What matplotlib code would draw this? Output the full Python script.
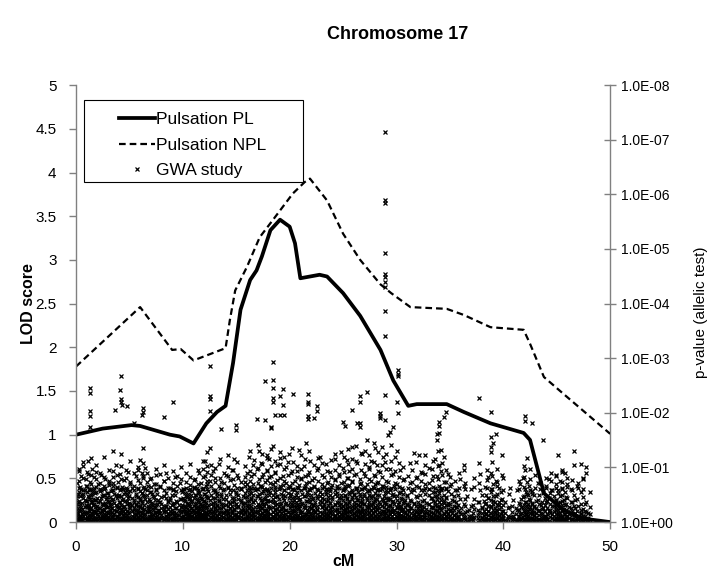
import matplotlib
matplotlib.use("Agg")
import matplotlib.pyplot as plt
from matplotlib.patches import Rectangle
from matplotlib.ticker import FixedLocator, FuncFormatter, NullLocator
import numpy as np

plt.rcParams['font.family'] = ['Liberation Sans', 'DejaVu Sans']

# linkage curves (cM, LOD)
pl_cm = [0, 2.5, 5.2, 6.0, 8.8, 9.7, 11.0, 12.2, 13.2, 14.0, 14.7, 15.4, 16.3,
         16.9, 17.4, 18.2, 19.1, 20.0, 20.5, 21.0, 22.8, 23.5, 25.0, 26.6,
         28.5, 29.7, 31.1, 31.9, 34.7, 36.3, 38.8, 41.9, 42.5, 43.8, 45.6,
         47.5, 50]
pl_lod = [1.0, 1.07, 1.11, 1.10, 1.0, 0.98, 0.90, 1.13, 1.26, 1.33, 1.82,
          2.43, 2.77, 2.88, 3.04, 3.34, 3.46, 3.38, 3.19, 2.79, 2.83, 2.81,
          2.62, 2.36, 1.97, 1.62, 1.33, 1.35, 1.35, 1.26, 1.13, 1.02, 0.94,
          0.33, 0.14, 0.04, 0.0]

npl_cm = [0, 6.0, 9.0, 9.8, 11.0, 14.0, 14.4, 14.9, 16.0, 17.2, 18.2, 20.3,
          21.4, 21.9, 23.5, 25.0, 26.6, 28.5, 29.5, 31.3, 34.7, 36.3, 38.8,
          41.9, 42.5, 43.8, 45.6, 50]
npl_lod = [1.78, 2.46, 1.97, 1.98, 1.85, 1.99, 2.31, 2.65, 2.92, 3.26, 3.42,
           3.76, 3.89, 3.93, 3.68, 3.30, 3.0, 2.72, 2.62, 2.46, 2.44, 2.37,
           2.23, 2.20, 2.04, 1.66, 1.47, 1.01]

# GWA study: SNP position (cM) with the -log10(p) values seen there
gwa_rows = [
    (0.1, [0.02, 0.15, 0.33, 0.48, 0.71]),
    (0.3, [0.08, 0.22, 0.39, 0.56, 0.93]),
    (0.5, [0.04, 0.12, 0.27, 0.61, 0.84]),
    (0.7, [0.11, 0.19, 0.45, 0.52, 1.02]),
    (0.9, [0.03, 0.31, 0.38, 0.66, 0.79]),
    (1.1, [0.06, 0.17, 0.29, 0.47, 0.88, 1.12]),
    (1.3, [0.09, 0.24, 0.42, 0.58, 0.74, 1.75, 1.94, 2.04, 2.36, 2.45]),
    (1.5, [0.02, 0.14, 0.36, 0.51, 0.97]),
    (1.7, [0.07, 0.21, 0.33, 0.63, 0.82]),
    (1.9, [0.05, 0.18, 0.41, 0.55, 0.91]),
    (2.1, [0.12, 0.26, 0.37, 0.69]),
    (2.3, [0.03, 0.16, 0.44, 0.58, 0.86]),
    (2.5, [0.08, 0.23, 0.31, 0.49]),
    (2.7, [0.04, 0.13, 0.35, 0.62, 0.78]),
    (2.9, [0.1, 0.28, 0.46, 0.53]),
    (3.1, [0.06, 0.19, 0.39, 0.71, 0.95]),
    (3.3, [0.02, 0.25, 0.34, 0.57]),
    (3.5, [0.09, 0.15, 0.43, 0.66, 0.83]),
    (3.65, [2.06]),
    (3.7, [0.05, 0.21, 0.32, 0.5, 1.05]),
    (3.9, [0.11, 0.27, 0.47, 0.74]),
    (4.1, [0.03, 0.18, 0.36, 0.59, 0.88, 2.42]),
    (4.25, [2.2, 2.25, 2.67]),
    (4.3, [0.07, 0.24, 0.41, 0.64, 2.14]),
    (4.5, [0.04, 0.13, 0.29, 0.52, 0.77]),
    (4.75, [0.09, 0.2, 0.38, 0.61, 2.12]),
    (4.9, [0.02, 0.16, 0.45, 0.55, 0.92]),
    (5.1, [0.06, 0.26, 0.33, 0.69]),
    (5.4, [0.1, 0.22, 0.4, 0.58, 1.81]),
    (5.6, [0.03, 0.14, 0.31, 0.48, 0.85]),
    (5.8, [0.08, 0.19, 0.37, 0.63, 0.96]),
    (6.0, [0.05, 0.28, 0.44, 0.72, 1.13]),
    (6.2, [0.11, 0.17, 0.35, 0.54, 0.9, 1.96]),
    (6.3, [0.02, 0.23, 0.49, 0.81, 2.02, 2.08]),
    (6.5, [0.07, 0.15, 0.42, 0.6, 0.99]),
    (6.7, [0.04, 0.25, 0.3, 0.67]),
    (6.9, [0.09, 0.2, 0.38, 0.56, 0.78]),
    (7.1, [0.03, 0.12, 0.34, 0.51]),
    (7.3, [0.06, 0.27, 0.46, 0.7]),
    (7.5, [0.1, 0.18, 0.32, 0.59, 0.87]),
    (7.7, [0.02, 0.22, 0.41]),
    (7.9, [0.08, 0.16, 0.36, 0.65]),
    (8.2, [0.05, 0.24, 0.47, 0.76, 1.92]),
    (8.4, [0.11, 0.29, 0.53, 0.89]),
    (8.6, [0.03, 0.14, 0.39]),
    (8.8, [0.07, 0.21, 0.44, 0.62]),
    (9.1, [0.04, 0.17, 0.33, 0.58, 2.2]),
    (9.3, [0.09, 0.26, 0.5, 0.82]),
    (9.5, [0.02, 0.13, 0.37]),
    (9.7, [0.06, 0.2, 0.43, 0.71]),
    (9.9, [0.1, 0.31, 0.55]),
    (10.1, [0.03, 0.12, 0.24, 0.4, 0.61]),
    (10.3, [0.05, 0.16, 0.28, 0.47]),
    (10.5, [0.02, 0.09, 0.19, 0.35, 0.52]),
    (10.7, [0.07, 0.14, 0.3, 0.44, 0.68]),
    (10.9, [0.04, 0.11, 0.22, 0.38, 0.57]),
    (11.1, [0.01, 0.08, 0.18, 0.33, 0.49, 0.79]),
    (11.3, [0.06, 0.15, 0.26, 0.42, 0.63]),
    (11.5, [0.03, 0.1, 0.21, 0.36, 0.54, 0.9]),
    (11.7, [0.05, 0.13, 0.29, 0.45, 0.72]),
    (11.9, [0.02, 0.12, 0.24, 0.39, 0.6, 0.97]),
    (12.1, [0.07, 0.17, 0.32, 0.51, 0.84, 1.12]),
    (12.3, [0.04, 0.14, 0.27, 0.46, 0.69, 1.02]),
    (12.55, [0.09, 0.2, 0.41, 0.76, 1.35, 2.04, 2.25, 2.31, 2.86]),
    (12.8, [0.03, 0.16, 0.35, 0.58, 0.93]),
    (13.0, [0.06, 0.23, 0.44, 0.81]),
    (13.2, [0.02, 0.12, 0.3, 0.53]),
    (13.4, [0.08, 0.19, 0.38, 0.67, 1.07]),
    (13.6, [0.05, 0.25, 0.48, 0.74, 1.7]),
    (13.8, [0.1, 0.17, 0.34, 0.59]),
    (14.0, [0.03, 0.21, 0.42, 0.86]),
    (14.2, [0.07, 0.14, 0.29, 0.63, 1.01]),
    (14.4, [0.04, 0.26, 0.52, 0.77]),
    (14.6, [0.09, 0.18, 0.37, 0.95]),
    (14.8, [0.02, 0.23, 0.45, 0.68, 1.15]),
    (15.0, [0.06, 0.13, 0.33, 0.56, 1.68, 1.78]),
    (15.2, [0.1, 0.28, 0.49, 0.8]),
    (15.4, [0.03, 0.16, 0.4, 0.62]),
    (15.6, [0.07, 0.22, 0.35]),
    (15.8, [0.04, 0.19, 0.46, 0.73]),
    (16.0, [0.09, 0.27, 0.39, 0.58, 0.9]),
    (16.2, [0.02, 0.15, 0.31, 0.65, 1.2]),
    (16.4, [0.06, 0.24, 0.43, 0.54, 0.85]),
    (16.6, [0.11, 0.18, 0.36, 0.7, 1.04]),
    (16.9, [0.03, 0.2, 0.47, 0.61, 0.97, 1.88]),
    (17.1, [0.08, 0.13, 0.29, 0.52, 0.78, 1.3]),
    (17.3, [0.05, 0.26, 0.41, 0.66, 1.09]),
    (17.5, [0.1, 0.17, 0.34, 0.57, 0.88]),
    (17.7, [0.02, 0.22, 0.45, 0.74, 1.87, 2.59]),
    (17.9, [0.07, 0.14, 0.38, 0.6, 0.94, 1.22]),
    (18.1, [0.04, 0.28, 0.5, 0.82, 1.15]),
    (18.25, [1.72, 1.75]),
    (18.4, [0.09, 0.19, 0.42, 0.69, 1.4, 2.2, 2.27, 2.45, 2.61, 2.94]),
    (18.6, [0.03, 0.24, 0.36, 0.55, 0.91, 1.96]),
    (18.8, [0.06, 0.15, 0.47, 0.77, 1.05]),
    (19.1, [0.11, 0.21, 0.33, 0.63, 1.18, 1.96, 2.3]),
    (19.35, [0.02, 0.26, 0.49, 0.84, 2.14, 2.43]),
    (19.5, [0.08, 0.13, 0.4, 0.58, 1.96]),
    (19.7, [0.05, 0.23, 0.35, 0.71, 1.0]),
    (19.9, [0.1, 0.18, 0.44, 0.66, 1.25]),
    (20.1, [0.03, 0.29, 0.52, 0.89]),
    (20.3, [0.07, 0.16, 0.37, 0.6, 1.1, 2.34]),
    (20.5, [0.04, 0.22, 0.46, 0.75]),
    (20.7, [0.09, 0.12, 0.31, 0.55, 0.93]),
    (20.9, [0.02, 0.25, 0.41, 0.68, 1.32]),
    (21.1, [0.06, 0.19, 0.34, 0.8]),
    (21.3, [0.11, 0.27, 0.48, 0.62, 1.03]),
    (21.5, [0.03, 0.15, 0.39, 0.72, 1.45]),
    (21.7, [0.08, 0.21, 0.5, 0.86, 1.88, 1.94, 2.17, 2.2, 2.34]),
    (21.9, [0.05, 0.14, 0.36, 0.59, 1.12]),
    (22.1, [0.1, 0.26, 0.43, 0.77]),
    (22.3, [0.02, 0.18, 0.32, 0.64, 1.9]),
    (22.55, [0.07, 0.23, 0.47, 0.95, 2.04, 2.12]),
    (22.8, [0.04, 0.12, 0.38, 0.56, 1.2]),
    (23.0, [0.09, 0.28, 0.45, 0.7]),
    (23.2, [0.03, 0.17, 0.33, 0.83]),
    (23.4, [0.06, 0.24, 0.51, 0.61, 1.07]),
    (23.6, [0.11, 0.15, 0.4, 0.74]),
    (23.8, [0.02, 0.2, 0.35, 0.57, 0.92]),
    (24.0, [0.07, 0.27, 0.46, 0.68]),
    (24.2, [0.04, 0.13, 0.31, 0.79, 1.16]),
    (24.4, [0.08, 0.22, 0.53, 0.62]),
    (24.6, [0.05, 0.18, 0.37, 0.88]),
    (24.8, [0.1, 0.25, 0.44, 0.71, 1.28]),
    (25.0, [0.03, 0.16, 0.3, 0.58, 0.99, 1.84]),
    (25.2, [0.06, 0.21, 0.49, 0.66, 1.76]),
    (25.4, [0.01, 0.12, 0.27, 0.42, 0.8, 1.14]),
    (25.6, [0.09, 0.19, 0.35, 0.55, 0.94]),
    (25.85, [0.04, 0.24, 0.46, 0.73, 1.38, 2.05]),
    (26.0, [0.07, 0.14, 0.32, 0.51, 0.86]),
    (26.3, [0.02, 0.2, 0.4, 0.63, 1.08, 1.82]),
    (26.6, [0.1, 0.17, 0.29, 0.47, 0.78, 1.75, 1.81, 2.19, 2.3]),
    (26.8, [0.05, 0.23, 0.38, 0.6, 1.24]),
    (27.0, [0.03, 0.13, 0.34, 0.52, 0.9]),
    (27.2, [0.08, 0.26, 0.44, 0.69, 1.5, 2.39]),
    (27.4, [0.04, 0.16, 0.31, 0.57, 0.97]),
    (27.6, [0.11, 0.22, 0.48, 0.75, 1.12]),
    (27.8, [0.02, 0.18, 0.36, 0.64]),
    (28.0, [0.06, 0.12, 0.27, 0.43, 0.85, 1.35]),
    (28.2, [0.09, 0.25, 0.5, 0.71, 1.04]),
    (28.5, [0.03, 0.15, 0.33, 0.58, 0.92, 1.9, 1.94, 2.0]),
    (28.7, [0.07, 0.21, 0.41, 0.66, 1.2]),
    (28.9, [0.04, 0.17, 0.37, 0.54, 1.1, 1.87, 2.33, 3.41, 3.87, 4.31,
            4.4, 4.49, 4.55, 4.93, 5.85, 5.89, 7.15]),
    (29.2, [0.09, 0.23, 0.45, 0.73, 1.59]),
    (29.4, [0.02, 0.14, 0.3, 0.61, 0.98, 1.65]),
    (29.7, [0.06, 0.2, 0.39, 0.52, 0.88, 1.75]),
    (30.0, [0.1, 0.26, 0.47, 0.69, 1.3, 2.2]),
    (30.1, [0.03, 0.16, 0.34, 1.99, 2.67, 2.72, 2.78]),
    (30.3, [0.07, 0.12, 0.28, 0.56, 0.95]),
    (30.5, [0.04, 0.22, 0.43, 0.62]),
    (30.7, [0.08, 0.18, 0.36, 0.79]),
    (31.0, [0.02, 0.13, 0.31, 0.5]),
    (31.3, [0.06, 0.25, 0.41, 0.72, 1.08]),
    (31.6, [0.1, 0.17, 0.35, 0.58, 1.26]),
    (31.9, [0.03, 0.21, 0.46, 0.83]),
    (32.1, [0.07, 0.14, 0.29, 0.64, 1.23]),
    (32.4, [0.05, 0.24, 0.38, 0.9]),
    (32.7, [0.09, 0.19, 0.52, 0.7, 1.23]),
    (33.0, [0.02, 0.15, 0.33, 0.6]),
    (33.3, [0.06, 0.27, 0.44, 0.77, 0.98]),
    (33.6, [0.04, 0.12, 0.37, 0.55, 1.15]),
    (33.8, [0.08, 0.22, 0.48, 0.85, 1.5, 1.62]),
    (34.0, [0.03, 0.18, 0.3, 0.66, 1.04, 1.64, 1.76, 1.84]),
    (34.2, [0.07, 0.25, 0.41, 0.59, 0.93, 1.32]),
    (34.4, [0.05, 0.14, 0.35, 0.74, 1.2, 1.93]),
    (34.6, [0.1, 0.2, 0.46, 0.63, 2.02]),
    (34.8, [0.02, 0.16, 0.32, 0.88]),
    (35.1, [0.06, 0.23, 0.51, 0.7]),
    (35.4, [0.04, 0.13, 0.39]),
    (35.7, [0.08, 0.27, 0.58]),
    (35.9, [0.03, 0.19, 0.42, 0.78]),
    (36.3, [0.07, 0.15, 0.34, 0.66, 0.95, 1.04]),
    (36.6, [0.02, 0.21, 0.47]),
    (37.0, [0.05, 0.12, 0.3, 0.6]),
    (37.3, [0.09, 0.24, 0.43]),
    (37.7, [0.04, 0.18, 0.37, 0.72, 1.08, 2.27]),
    (38.0, [0.07, 0.26, 0.5]),
    (38.3, [0.03, 0.14, 0.33, 0.64]),
    (38.6, [0.06, 0.2, 0.45, 0.82]),
    (38.8, [0.1, 0.29, 0.55, 0.9, 1.29, 1.38, 1.56, 2.02]),
    (39.0, [0.02, 0.16, 0.38, 0.7, 1.45]),
    (39.3, [0.08, 0.23, 0.48, 0.76, 1.61]),
    (39.6, [0.04, 0.13, 0.31, 0.62]),
    (39.9, [0.07, 0.21, 0.42, 0.86, 1.23]),
    (40.2, [0.03, 0.17, 0.36]),
    (40.5, [0.09, 0.27, 0.52]),
    (40.9, [0.05, 0.12, 0.4]),
    (41.3, [0.02, 0.22, 0.58]),
    (41.6, [0.06, 0.15, 0.33, 0.69]),
    (41.8, [0.1, 0.25, 0.46, 0.8]),
    (42.0, [0.03, 0.19, 0.37, 0.6, 0.95, 1.85, 1.95]),
    (42.2, [0.07, 0.14, 0.3, 0.51, 0.74, 1.17]),
    (42.4, [0.04, 0.24, 0.43, 0.66]),
    (42.7, [0.08, 0.18, 0.35, 0.57, 1.82]),
    (42.9, [0.02, 0.13, 0.28, 0.49]),
    (43.2, [0.06, 0.21, 0.4, 0.71]),
    (43.5, [0.03, 0.16, 0.32]),
    (43.75, [0.09, 0.26, 0.54, 1.51]),
    (44.0, [0.05, 0.12, 0.37, 0.62]),
    (44.3, [0.02, 0.2, 0.45, 0.78]),
    (44.6, [0.07, 0.15, 0.3, 0.58]),
    (44.9, [0.04, 0.23, 0.41, 0.69, 0.86]),
    (45.1, [0.08, 0.17, 0.34, 0.53, 1.23]),
    (45.3, [0.03, 0.11, 0.27, 0.48, 0.75]),
    (45.5, [0.06, 0.22, 0.39, 0.62, 0.92]),
    (45.8, [0.02, 0.14, 0.31, 0.56, 0.9]),
    (46.0, [0.09, 0.19, 0.44, 0.7]),
    (46.3, [0.05, 0.25, 0.36, 0.6]),
    (46.6, [0.03, 0.13, 0.29, 0.5, 1.04, 1.3]),
    (46.9, [0.07, 0.2, 0.42, 0.66]),
    (47.3, [0.04, 0.16, 0.33, 0.55, 1.06]),
    (47.5, [0.02, 0.11, 0.24, 0.46, 0.8]),
    (47.7, [0.06, 0.18, 0.37, 0.89, 1.01]),
    (48.1, [0.03, 0.14, 0.28, 0.55]),
]

# the dense band of weak SNPs close to the baseline (-log10 p)
gwa_rows_low = [
    (0.0, [.01, .06, .13, .21, .3, .44]),
    (0.2, [.03, .09, .17, .26, .37, .52]),
    (0.4, [.02, .05, .11, .2, .33, .47, .64]),
    (0.6, [.04, .08, .15, .24, .35, .5]),
    (0.8, [.01, .07, .14, .19, .28, .41, .58]),
    (1.0, [.03, .1, .18, .27, .39, .55]),
    (1.2, [.02, .06, .12, .23, .31, .46, .6]),
    (1.4, [.04, .09, .16, .25, .36, .49]),
    (1.6, [.01, .05, .13, .21, .32, .43, .57]),
    (1.8, [.03, .08, .17, .28, .4, .53]),
    (2.0, [.02, .07, .14, .22, .3, .45]),
    (2.2, [.04, .1, .19, .26, .38, .61]),
    (2.4, [.01, .06, .12, .2, .34, .48]),
    (2.6, [.03, .09, .15, .24, .33, .5, .67]),
    (2.8, [.02, .05, .11, .18, .29, .42]),
    (3.0, [.04, .08, .16, .27, .37, .54]),
    (3.2, [.01, .07, .13, .21, .31, .46]),
    (3.4, [.03, .1, .18, .25, .4, .59]),
    (3.6, [.02, .06, .14, .23, .35, .51]),
    (3.8, [.04, .09, .12, .2, .3, .44, .63]),
    (4.0, [.01, .05, .15, .26, .36, .49]),
    (4.2, [.03, .08, .17, .22, .32, .47]),
    (4.4, [.02, .07, .11, .19, .28, .43, .6]),
    (4.6, [.04, .1, .16, .24, .39, .56]),
    (4.8, [.01, .06, .13, .21, .33, .5]),
    (5.0, [.03, .09, .18, .27, .35, .48]),
    (5.2, [.02, .05, .12, .2, .31, .45, .62]),
    (5.4, [.04, .08, .15, .25, .37]),
    (5.6, [.01, .07, .14, .23, .34, .52]),
    (5.8, [.03, .1, .17, .22, .3, .46]),
    (6.0, [.02, .06, .11, .19, .29, .41, .57]),
    (6.2, [.04, .09, .16, .26, .38, .53]),
    (6.4, [.01, .05, .13, .24, .32, .47, .65]),
    (6.6, [.03, .08, .18, .21, .36, .5]),
    (6.8, [.02, .07, .12, .2, .28, .43]),
    (7.0, [.04, .1, .15, .27, .35, .55]),
    (7.2, [.01, .06, .14, .22, .31, .48]),
    (7.4, [.03, .09, .17, .25, .4]),
    (7.6, [.02, .05, .11, .19, .33, .52]),
    (7.8, [.04, .08, .16, .23, .37]),
    (8.0, [.01, .07, .13, .26, .34, .46]),
    (8.2, [.03, .1, .18, .21, .3]),
    (8.4, [.02, .06, .12, .2, .29, .44]),
    (8.6, [.04, .09, .15, .24, .36]),
    (8.8, [.01, .05, .14, .27, .41]),
    (9.0, [.03, .08, .17, .22, .32, .5]),
    (9.2, [.02, .07, .11, .19, .35]),
    (9.4, [.04, .1, .16, .25, .38, .57]),
    (9.6, [.01, .06, .13, .23, .31]),
    (9.8, [.03, .09, .18, .28, .43]),
    (10.0, [.02, .05, .12, .2, .3, .45, .6]),
    (10.2, [.01, .04, .08, .14, .21, .29, .39, .53]),
    (10.4, [.03, .06, .11, .17, .24, .33, .46]),
    (10.6, [.02, .05, .1, .15, .22, .31, .42, .58]),
    (10.8, [.01, .07, .12, .18, .26, .36, .49]),
    (11.0, [.03, .04, .09, .16, .23, .3, .44, .62]),
    (11.2, [.02, .06, .11, .19, .27, .35, .5]),
    (11.4, [.01, .05, .08, .14, .2, .28, .4, .56]),
    (11.6, [.03, .07, .12, .17, .25, .34, .47]),
    (11.8, [.02, .04, .1, .15, .22, .32, .43, .6]),
    (12.0, [.01, .06, .13, .19, .29, .38, .52]),
    (12.2, [.03, .08, .11, .18, .26, .36, .48, .66]),
    (12.4, [.02, .05, .14, .21, .31, .45, .57]),
    (12.6, [.04, .09, .16, .24, .33, .5]),
    (12.8, [.01, .07, .12, .2, .3, .44]),
    (13.0, [.03, .1, .17, .27, .37, .55]),
    (13.2, [.02, .06, .13, .22, .32, .47]),
    (13.4, [.04, .08, .15, .25, .4]),
    (13.6, [.01, .05, .11, .19, .34, .52]),
    (13.8, [.03, .09, .18, .28, .42]),
    (14.0, [.02, .07, .14, .23, .31, .49]),
    (14.2, [.04, .1, .16, .2, .36]),
    (14.4, [.01, .06, .12, .26, .35, .58]),
    (14.6, [.03, .08, .17, .21, .3, .45]),
    (14.8, [.02, .05, .13, .24, .38]),
    (15.0, [.04, .09, .15, .27, .33, .51]),
    (15.2, [.01, .07, .11, .19, .29, .43]),
    (15.4, [.03, .1, .18, .22, .37, .6]),
    (15.6, [.02, .06, .14, .25, .32, .48]),
    (15.8, [.04, .08, .16, .2, .35, .54]),
    (16.0, [.01, .05, .12, .23, .31, .46, .7]),
    (16.2, [.03, .09, .17, .26, .39, .52]),
    (16.4, [.02, .07, .13, .21, .3, .44, .63]),
    (16.6, [.04, .1, .15, .24, .36, .5]),
    (16.8, [.01, .06, .11, .19, .28, .41, .59]),
    (17.0, [.03, .08, .18, .27, .34, .47]),
    (17.2, [.02, .05, .14, .22, .32, .45, .66]),
    (17.4, [.04, .09, .16, .25, .37, .53]),
    (17.6, [.01, .07, .12, .2, .3, .43, .61]),
    (17.8, [.03, .1, .17, .23, .35, .5]),
    (18.0, [.02, .06, .13, .21, .29, .4, .57]),
    (18.2, [.04, .08, .15, .26, .38, .55, .72]),
    (18.4, [.01, .05, .11, .18, .27, .36, .49]),
    (18.6, [.03, .09, .14, .22, .31, .46, .64]),
    (18.8, [.02, .07, .16, .24, .33, .48]),
    (19.0, [.04, .1, .12, .2, .3, .42, .6]),
    (19.2, [.01, .06, .17, .25, .35, .51]),
    (19.4, [.03, .08, .13, .21, .28, .44, .68]),
    (19.6, [.02, .05, .15, .23, .34, .47]),
    (19.8, [.04, .09, .11, .19, .32, .53]),
    (20.0, [.01, .07, .14, .26, .37, .5, .65]),
    (20.2, [.03, .1, .18, .22, .31, .45]),
    (20.4, [.02, .06, .12, .2, .29, .41, .58]),
    (20.6, [.04, .08, .16, .27, .36, .49]),
    (20.8, [.01, .05, .13, .24, .33, .46, .62]),
    (21.0, [.03, .09, .17, .21, .3, .43]),
    (21.2, [.02, .07, .11, .19, .35, .52]),
    (21.4, [.04, .1, .15, .25, .32, .48, .66]),
    (21.6, [.01, .06, .14, .22, .38, .55]),
    (21.8, [.03, .08, .12, .2, .28, .42]),
    (22.0, [.02, .05, .16, .26, .34, .5, .63]),
    (22.2, [.04, .09, .13, .23, .31, .45]),
    (22.4, [.01, .07, .18, .21, .37, .53]),
    (22.6, [.03, .1, .14, .24, .29, .44, .6]),
    (22.8, [.02, .06, .11, .19, .33, .47]),
    (23.0, [.04, .08, .17, .27, .36, .51]),
    (23.2, [.01, .05, .12, .22, .3, .43, .64]),
    (23.4, [.03, .09, .15, .25, .39, .56]),
    (23.6, [.02, .07, .13, .2, .32, .46]),
    (23.8, [.04, .1, .16, .26, .35, .49, .61]),
    (24.0, [.01, .06, .14, .21, .28, .42]),
    (24.2, [.03, .08, .11, .23, .34, .52]),
    (24.4, [.02, .05, .17, .24, .37, .48, .67]),
    (24.6, [.04, .09, .12, .19, .31, .45]),
    (24.8, [.01, .07, .15, .27, .33, .5]),
    (25.0, [.03, .1, .13, .22, .3, .41, .59]),
    (25.2, [.02, .04, .09, .16, .24, .35, .47, .62]),
    (25.4, [.01, .06, .11, .18, .26, .33, .44]),
    (25.6, [.03, .05, .12, .2, .28, .38, .52, .68]),
    (25.8, [.02, .07, .14, .21, .3, .42, .56]),
    (26.0, [.01, .04, .1, .17, .25, .36, .49]),
    (26.2, [.03, .06, .13, .19, .27, .34, .46, .6]),
    (26.4, [.02, .08, .11, .22, .31, .4, .55]),
    (26.6, [.01, .05, .15, .2, .29, .37, .51, .7]),
    (26.8, [.03, .07, .12, .18, .26, .35, .45]),
    (27.0, [.02, .04, .09, .16, .23, .33, .48, .63]),
    (27.2, [.01, .06, .14, .21, .3, .41, .57]),
    (27.4, [.03, .08, .11, .19, .27, .36, .5]),
    (27.6, [.02, .05, .13, .22, .32, .44, .61]),
    (27.8, [.01, .07, .1, .17, .25, .34, .47]),
    (28.0, [.03, .04, .12, .2, .28, .39, .53, .69]),
    (28.2, [.02, .06, .15, .23, .31, .43, .58]),
    (28.4, [.01, .08, .11, .18, .26, .37, .49]),
    (28.6, [.03, .05, .14, .21, .3, .42, .6]),
    (28.8, [.02, .07, .12, .19, .27, .35, .48]),
    (29.0, [.01, .04, .1, .16, .24, .33, .45, .64]),
    (29.2, [.03, .06, .13, .22, .29, .4, .55]),
    (29.4, [.02, .08, .15, .2, .31, .43, .59]),
    (29.6, [.01, .05, .11, .18, .26, .36, .5]),
    (29.8, [.03, .07, .14, .23, .34, .47, .66]),
    (30.0, [.02, .09, .12, .19, .28, .41]),
    (30.2, [.04, .06, .16, .25, .37, .54]),
    (30.4, [.01, .08, .13, .21, .3, .45]),
    (30.6, [.03, .05, .11, .24, .35, .52]),
    (30.8, [.02, .1, .17, .27, .4]),
    (31.0, [.04, .07, .14, .22, .33, .48]),
    (31.2, [.01, .06, .12, .2, .31]),
    (31.4, [.03, .09, .16, .26, .38, .55]),
    (31.6, [.02, .05, .13, .23, .34]),
    (31.8, [.04, .08, .11, .19, .29, .47]),
    (32.0, [.01, .07, .15, .25, .36]),
    (32.2, [.03, .1, .18, .22, .32, .5]),
    (32.4, [.02, .06, .12, .2, .3]),
    (32.6, [.04, .09, .14, .27, .41, .58]),
    (32.8, [.01, .05, .16, .24, .35]),
    (33.0, [.03, .08, .13, .21, .33, .49]),
    (33.2, [.02, .07, .11, .19, .28, .44]),
    (33.4, [.04, .1, .17, .26, .38, .56]),
    (33.6, [.01, .06, .14, .23, .32, .47, .63]),
    (33.8, [.03, .05, .12, .2, .3, .42]),
    (34.0, [.02, .09, .15, .25, .36, .53]),
    (34.2, [.04, .07, .13, .22, .34, .46, .61]),
    (34.4, [.01, .08, .16, .27, .39, .5]),
    (34.6, [.03, .06, .11, .19, .31, .45]),
    (34.8, [.02, .1, .14, .24, .35, .57]),
    (35.0, [.04, .05, .12, .21, .33]),
    (35.2, [.01, .08, .17, .26, .4]),
    (35.4, [.03, .06, .13, .22, .3, .48]),
    (35.6, [.02, .09, .15, .28, .37]),
    (35.8, [.04, .07, .11, .2, .32, .5]),
    (36.0, [.01, .05, .14, .25]),
    (36.4, [.03, .1, .18, .29, .42]),
    (36.8, [.02, .06, .12, .23]),
    (37.2, [.04, .08, .16, .31]),
    (37.6, [.01, .07, .13, .22, .36]),
    (38.0, [.03, .09, .17, .28]),
    (38.2, [.02, .05, .11, .21, .38]),
    (38.4, [.04, .08, .15, .24, .35, .5]),
    (38.6, [.01, .06, .13, .2, .3, .44]),
    (38.8, [.03, .1, .17, .27, .41, .6]),
    (39.0, [.02, .07, .12, .22, .33, .48]),
    (39.2, [.04, .05, .16, .25, .36]),
    (39.4, [.01, .09, .14, .2, .31, .52]),
    (39.6, [.03, .06, .11, .24, .37]),
    (39.8, [.02, .08, .15, .27, .4, .56]),
    (40.0, [.04, .07, .13, .21, .32]),
    (40.4, [.01, .05, .12, .25]),
    (40.8, [.03, .09, .18, .3]),
    (41.2, [.02, .06, .14, .26]),
    (41.5, [.04, .08, .11, .22, .35]),
    (41.7, [.01, .07, .16, .28, .42]),
    (41.9, [.03, .05, .13, .2, .31, .47]),
    (42.1, [.02, .09, .15, .24, .37, .55]),
    (42.3, [.04, .06, .12, .21, .33, .49]),
    (42.5, [.01, .08, .17, .27, .4]),
    (42.7, [.03, .07, .14, .23, .34, .52]),
    (42.9, [.02, .05, .11, .19, .3]),
    (43.1, [.04, .1, .16, .26, .39]),
    (43.3, [.01, .06, .13, .22, .33, .5]),
    (43.6, [.03, .08, .15, .24, .36]),
    (43.9, [.02, .07, .12, .2, .31, .45]),
    (44.1, [.04, .05, .14, .25, .38]),
    (44.4, [.01, .09, .17, .22, .34, .53]),
    (44.7, [.03, .06, .11, .21, .3, .47]),
    (44.9, [.02, .08, .15, .27, .4]),
    (45.1, [.04, .07, .13, .23, .35, .58]),
    (45.3, [.01, .05, .16, .26, .37]),
    (45.5, [.03, .09, .12, .2, .32, .5]),
    (45.7, [.02, .06, .14, .24, .41]),
    (45.9, [.04, .08, .11, .22, .33, .46]),
    (46.1, [.01, .07, .15, .28]),
    (46.4, [.03, .05, .13, .21, .36]),
    (46.7, [.02, .09, .17, .25, .4]),
    (47.0, [.04, .06, .12, .3]),
    (47.3, [.01, .08, .14, .23]),
    (47.6, [.03, .05, .11, .2, .34]),
    (47.9, [.02, .07, .16]),
]

# the looser band of SNPs between LOD ~0.4 and ~0.9 (-log10 p)
gwa_rows_mid = [
    (0.25, [.62, .75, .98]), (0.65, [.58, .81, 1.1]), (1.05, [.66, .92]),
    (1.45, [.6, .7, .87, 1.18]), (1.85, [.64, .79, 1.05]),
    (2.25, [.57, .72, .9]), (2.65, [.61, .83, 1.2]), (3.05, [.68, .76]),
    (3.45, [.59, .71, .94, 1.3]), (3.85, [.65, .86]),
    (4.25, [.6, .78, 1.02, 1.25]), (4.65, [.63, .8, .96]),
    (5.05, [.57, .74, 1.12]), (5.45, [.66, .89]), (5.85, [.6, .77, 1.0]),
    (6.25, [.62, .84, 1.08, 1.35]), (6.65, [.58, .73, .9]),
    (7.05, [.64, .81]), (7.45, [.61, .7, .97]), (7.85, [.67, .88]),
    (8.25, [.59, .76, 1.04]), (8.65, [.63, .8]), (9.05, [.6, .72, .93]),
    (9.45, [.66, .85]), (9.85, [.58, .79, 1.01]), (10.25, [.62, .74, .9]),
    (10.65, [.6, .83, 1.06]), (11.05, [.65, .77]), (11.45, [.59, .7, .95]),
    (11.85, [.63, .82, 1.12]), (12.25, [.6, .75, .92, 1.28]),
    (12.65, [.66, .87, 1.05]), (13.05, [.58, .73, .99]),
    (13.45, [.62, .8, 1.15]), (13.85, [.61, .71, .9]),
    (14.25, [.65, .84, 1.22]), (14.65, [.59, .78, .96]),
    (15.05, [.63, .86, 1.1]), (15.45, [.6, .74]), (15.85, [.67, .82, 1.02]),
    (16.25, [.58, .76, .93, 1.3]), (16.65, [.62, .88, 1.14]),
    (17.05, [.6, .72, .99, 1.42]), (17.45, [.64, .83, 1.07, 1.25]),
    (17.85, [.59, .77, .95, 1.18]), (18.25, [.63, .85, 1.02, 1.33]),
    (18.65, [.61, .73, .9, 1.12]), (19.05, [.66, .8, 1.06, 1.28]),
    (19.45, [.58, .75, .97, 1.2]), (19.85, [.62, .87, 1.1]),
    (20.25, [.6, .71, .94, 1.36]), (20.65, [.65, .82, 1.03]),
    (21.05, [.59, .78, .98, 1.22]), (21.45, [.63, .84, 1.15]),
    (21.85, [.61, .74, .92, 1.3]), (22.25, [.66, .8, 1.05]),
    (22.65, [.58, .76, .99, 1.18]), (23.05, [.62, .86, 1.09]),
    (23.45, [.6, .72, .93]), (23.85, [.64, .83, 1.14]),
    (24.25, [.59, .77, .96, 1.25]), (24.65, [.63, .85, 1.04]),
    (25.05, [.61, .73, .91, 1.2]), (25.45, [.66, .81, 1.07, 1.33]),
    (25.85, [.58, .75, .98, 1.16]), (26.25, [.62, .88, 1.12, 1.4]),
    (26.65, [.6, .71, .95, 1.26]), (27.05, [.65, .84, 1.06, 1.3]),
    (27.45, [.59, .78, 1.0, 1.22]), (27.85, [.63, .86, 1.1, 1.45]),
    (28.25, [.61, .74, .94, 1.28]), (28.65, [.66, .82, 1.05, 1.38]),
    (29.05, [.58, .76, .97, 1.25]), (29.45, [.62, .87, 1.12, 1.42]),
    (29.85, [.6, .72, .93, 1.2]), (30.25, [.64, .83, 1.08]),
    (30.65, [.59, .77, 1.0]), (31.05, [.63, .85]), (31.45, [.61, .73, .96]),
    (31.85, [.66, .8, 1.1]), (32.25, [.58, .75, .92]),
    (32.65, [.62, .88, 1.05]), (33.05, [.6, .71, .99]),
    (33.45, [.65, .84, 1.12]), (33.85, [.59, .78, 1.02, 1.3]),
    (34.25, [.63, .86, 1.08]), (34.65, [.61, .74, .95]),
    (35.05, [.66, .82]), (35.45, [.58, .76]), (35.85, [.62, .9]),
    (36.45, [.6, .72]), (37.25, [.64, .81]), (37.85, [.59, .88]),
    (38.45, [.63, .77, .95]), (38.95, [.61, .85, 1.1]),
    (39.45, [.66, .74, .98]), (39.95, [.58, .8]), (40.65, [.62]),
    (41.45, [.6, .75]), (41.95, [.65, .83, 1.02]), (42.45, [.59, .78, .97]),
    (42.95, [.63, .86]), (43.45, [.61, .72]), (43.95, [.66, .8]),
    (44.45, [.58, .76, .9]), (44.95, [.62, .84]), (45.45, [.6, .73, .95]),
    (45.95, [.65, .81]), (46.45, [.59, .77]), (46.95, [.63, .72]),
    (47.45, [.61, .79]),
]

p_ticks = [1e0, 1e-1, 1e-2, 1e-3, 1e-4, 1e-5, 1e-6, 1e-7, 1e-8]

all_rows = gwa_rows + gwa_rows_low + gwa_rows_mid
gwa_cm = [cm for cm, vals in all_rows for v in vals]
gwa_p = [10.0 ** (-v) for cm, vals in all_rows for v in vals]

grey = '#808080'

fig = plt.figure(figsize=(7.17, 5.75), dpi=100)
ax = fig.add_axes([0.106, 0.092, 0.745, 0.760])
ax2 = ax.twinx()

# GWA markers on the p-value axis, drawn beneath the LOD curves
gwa, = ax2.plot(gwa_cm, gwa_p, ls='none', marker='x', ms=3.2, mew=0.9,
                color='black', label='GWA study')
ax2.set_yscale('log')
ax2.set_ylim(1, 1e-8)
ax2.yaxis.set_major_locator(FixedLocator(p_ticks))
ax2.yaxis.set_minor_locator(NullLocator())
ax2.yaxis.set_major_formatter(
    FuncFormatter(lambda v, pos: '1.0E%+03d' % int(round(np.log10(v)))))

ax.set_zorder(ax2.get_zorder() + 1)
ax.patch.set_visible(False)

pl, = ax.plot(pl_cm, pl_lod, color='black', lw=2.7, solid_joinstyle='round',
              label='Pulsation PL')
npl, = ax.plot(npl_cm, npl_lod, color='black', lw=1.6, dashes=(3, 1.8),
               label='Pulsation NPL')

ax.set_xlim(0, 50)
ax.set_ylim(0, 5)
ax.set_xticks(range(0, 51, 10))
ax.set_yticks(np.arange(0, 5.01, 0.5))
ax.set_yticklabels(['0', '0.5', '1', '1.5', '2', '2.5', '3', '3.5', '4',
                    '4.5', '5'])

for a in (ax, ax2):
    for s in a.spines.values():
        s.set_color(grey)
        s.set_linewidth(1.0)
    a.spines['top'].set_visible(False)
ax.spines['right'].set_visible(False)
ax2.spines['left'].set_visible(False)
ax2.spines['bottom'].set_visible(False)

ax.tick_params(axis='both', colors=grey, labelcolor='black', labelsize=11,
               direction='out', length=5, width=1.0)
ax.tick_params(axis='x', pad=8)
ax.tick_params(axis='y', pad=9)
ax2.tick_params(axis='y', colors=grey, labelcolor='black', labelsize=10,
                direction='inout', length=9, width=1.0)

ax.set_xlabel('cM', fontsize=11.5, fontweight='bold', labelpad=0)
ax.set_ylabel('LOD score', fontsize=11.5, fontweight='bold')
ax.yaxis.set_label_coords(-0.075, 0.5)
ax2.set_ylabel('p-value (allelic test)', fontsize=11)
ax2.yaxis.set_label_coords(1.157, 0.48)
fig.suptitle('Chromosome 17', x=0.555, y=0.955, fontsize=13, fontweight='bold')

# legend box (Excel-style, wider than its content)
ax.add_patch(Rectangle((0.015, 0.778), 0.41, 0.188, transform=ax.transAxes,
                       facecolor='white', edgecolor='black', lw=0.8,
                       zorder=4))
leg = ax.legend(handles=[pl, npl, gwa], loc='upper left',
                bbox_to_anchor=(0.08, 0.938), fontsize=12.5, frameon=False,
                handlelength=2.1, handletextpad=0.05, borderpad=0,
                borderaxespad=0, labelspacing=0.6)
leg.set_zorder(5)

fig.savefig('out.png', dpi=100)
